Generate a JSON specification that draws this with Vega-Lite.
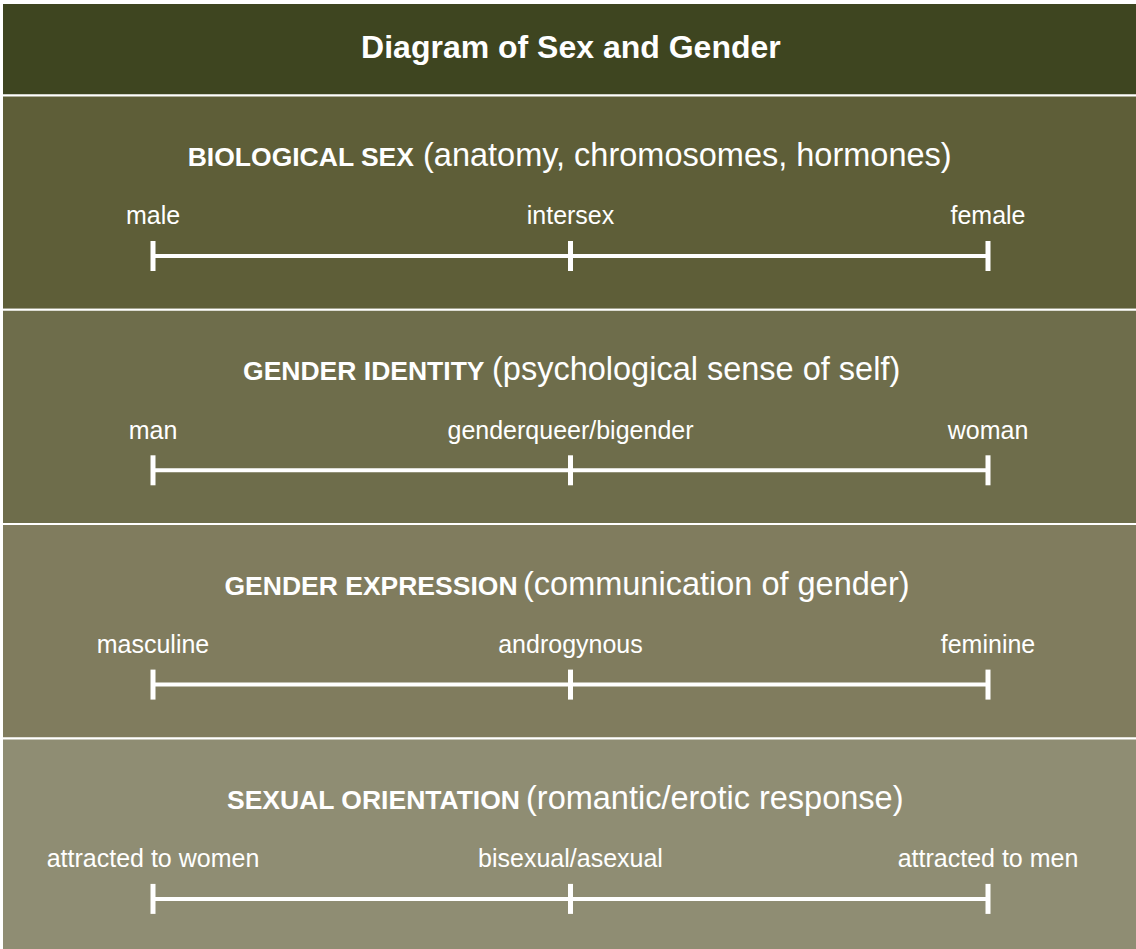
{
  "$schema": "https://vega.github.io/schema/vega-lite/v6.json",
  "width": 1136,
  "height": 949,
  "autosize": {"type": "fit", "contains": "padding"},
  "padding": 0,
  "background": "#ffffff",
  "config": {"view": {"stroke": null}},
  "datasets": {
    "title": [{"text": "Diagram of Sex and Gender"}],
    "dims": [
      {"dim": 1, "bold": "BIOLOGICAL SEX", "paren": "(anatomy, chromosomes, hormones)"},
      {"dim": 2, "bold": "GENDER IDENTITY", "paren": "(psychological sense of self)"},
      {"dim": 3, "bold": "GENDER EXPRESSION", "paren": "(communication of gender)"},
      {"dim": 4, "bold": "SEXUAL ORIENTATION", "paren": "(romantic/erotic response)"}
    ],
    "points": [
      {"dim": 1, "pos": -1, "label": "male"},
      {"dim": 1, "pos": 0, "label": "intersex"},
      {"dim": 1, "pos": 1, "label": "female"},
      {"dim": 2, "pos": -1, "label": "man"},
      {"dim": 2, "pos": 0, "label": "genderqueer/bigender"},
      {"dim": 2, "pos": 1, "label": "woman"},
      {"dim": 3, "pos": -1, "label": "masculine"},
      {"dim": 3, "pos": 0, "label": "androgynous"},
      {"dim": 3, "pos": 1, "label": "feminine"},
      {"dim": 4, "pos": -1, "label": "attracted to women"},
      {"dim": 4, "pos": 0, "label": "bisexual/asexual"},
      {"dim": 4, "pos": 1, "label": "attracted to men"}
    ]
  },
  "layer": [
    {
      "data": {"name": "title"},
      "mark": {"type": "rect", "color": "#3e4520", "stroke": "#ffffff", "strokeWidth": 2, "clip": true},
      "encoding": {
        "x": {"datum": -1.36168, "type": "quantitative", "scale": {"domain": [-1.36647, 1.35449], "nice": false, "zero": false}, "axis": null},
        "x2": {"datum": 1.38},
        "y": {"datum": 0.56837, "type": "quantitative", "scale": {"domain": [0.55437, 4.98273], "nice": false, "zero": false, "reverse": true}, "axis": null},
        "y2": {"datum": 1}
      }
    },
    {
      "data": {"name": "dims"},
      "mark": {"type": "rect", "stroke": "#ffffff", "strokeWidth": 2, "y2Offset": 214.3, "clip": true},
      "encoding": {
        "x": {"datum": -1.36168, "type": "quantitative", "scale": {"domain": [-1.36647, 1.35449], "nice": false, "zero": false}, "axis": null},
        "x2": {"datum": 1.38},
        "y": {"field": "dim", "type": "quantitative", "scale": {"domain": [0.55437, 4.98273], "nice": false, "zero": false, "reverse": true}, "axis": null},
        "y2": {"field": "dim"},
        "color": {"field": "dim", "type": "nominal", "scale": {"domain": [1, 2, 3, 4], "range": ["#5e5e38", "#6e6d4b", "#807c5e", "#8f8d73"]}, "legend": null}
      }
    },
    {
      "data": {"name": "title"},
      "mark": {"type": "text", "align": "center", "baseline": "alphabetic", "font": "Liberation Sans", "fontWeight": "bold", "fontSize": 32, "color": "#ffffff"},
      "encoding": {
        "x": {"datum": 0.001, "type": "quantitative", "scale": {"domain": [-1.36647, 1.35449], "nice": false, "zero": false}, "axis": null},
        "y": {"datum": 0.82642, "type": "quantitative", "scale": {"domain": [0.55437, 4.98273], "nice": false, "zero": false, "reverse": true}, "axis": null},
        "text": {"field": "text"}
      }
    },
    {
      "data": {"name": "dims"},
      "mark": {"type": "rule", "color": "#ffffff", "strokeWidth": 4, "yOffset": 160.5},
      "encoding": {
        "x": {"datum": -1, "type": "quantitative", "scale": {"domain": [-1.36647, 1.35449], "nice": false, "zero": false}, "axis": null},
        "x2": {"datum": 1},
        "y": {"field": "dim", "type": "quantitative", "scale": {"domain": [0.55437, 4.98273], "nice": false, "zero": false, "reverse": true}, "axis": null}
      }
    },
    {
      "data": {"name": "points"},
      "mark": {"type": "rule", "color": "#ffffff", "strokeWidth": 5, "yOffset": 145.5, "y2Offset": 175.5},
      "encoding": {
        "x": {"field": "pos", "type": "quantitative", "scale": {"domain": [-1.36647, 1.35449], "nice": false, "zero": false}, "axis": null},
        "y": {"field": "dim", "type": "quantitative", "scale": {"domain": [0.55437, 4.98273], "nice": false, "zero": false, "reverse": true}, "axis": null},
        "y2": {"field": "dim"}
      }
    },
    {
      "data": {"name": "points"},
      "mark": {"type": "text", "align": "center", "baseline": "alphabetic", "font": "Liberation Sans", "fontSize": 25, "color": "#ffffff", "yOffset": 129},
      "encoding": {
        "x": {"field": "pos", "type": "quantitative", "scale": {"domain": [-1.36647, 1.35449], "nice": false, "zero": false}, "axis": null},
        "y": {"field": "dim", "type": "quantitative", "scale": {"domain": [0.55437, 4.98273], "nice": false, "zero": false, "reverse": true}, "axis": null},
        "text": {"field": "label"}
      }
    },
    {
      "data": {"name": "dims"},
      "transform": [{"filter": "datum.dim == 1"}],
      "layer": [
        {
          "mark": {"type": "text", "align": "right", "baseline": "alphabetic", "font": "Liberation Sans", "fontWeight": "bold", "fontSize": 26.5, "color": "#ffffff", "yOffset": 70.5},
          "encoding": {
            "x": {"datum": -0.3749, "type": "quantitative", "scale": {"domain": [-1.36647, 1.35449], "nice": false, "zero": false}, "axis": null},
            "y": {"field": "dim", "type": "quantitative", "scale": {"domain": [0.55437, 4.98273], "nice": false, "zero": false, "reverse": true}, "axis": null},
            "text": {"field": "bold"}
          }
        },
        {
          "mark": {"type": "text", "align": "left", "baseline": "alphabetic", "font": "Liberation Sans", "fontSize": 32.5, "color": "#ffffff", "yOffset": 70.5},
          "encoding": {
            "x": {"datum": -0.3533, "type": "quantitative", "scale": {"domain": [-1.36647, 1.35449], "nice": false, "zero": false}, "axis": null},
            "y": {"field": "dim", "type": "quantitative", "scale": {"domain": [0.55437, 4.98273], "nice": false, "zero": false, "reverse": true}, "axis": null},
            "text": {"field": "paren"}
          }
        }
      ]
    },
    {
      "data": {"name": "dims"},
      "transform": [{"filter": "datum.dim == 2"}],
      "layer": [
        {
          "mark": {"type": "text", "align": "right", "baseline": "alphabetic", "font": "Liberation Sans", "fontWeight": "bold", "fontSize": 26.5, "color": "#ffffff", "yOffset": 70.5},
          "encoding": {
            "x": {"datum": -0.2060, "type": "quantitative", "scale": {"domain": [-1.36647, 1.35449], "nice": false, "zero": false}, "axis": null},
            "y": {"field": "dim", "type": "quantitative", "scale": {"domain": [0.55437, 4.98273], "nice": false, "zero": false, "reverse": true}, "axis": null},
            "text": {"field": "bold"}
          }
        },
        {
          "mark": {"type": "text", "align": "left", "baseline": "alphabetic", "font": "Liberation Sans", "fontSize": 32.5, "color": "#ffffff", "yOffset": 70.5},
          "encoding": {
            "x": {"datum": -0.1880, "type": "quantitative", "scale": {"domain": [-1.36647, 1.35449], "nice": false, "zero": false}, "axis": null},
            "y": {"field": "dim", "type": "quantitative", "scale": {"domain": [0.55437, 4.98273], "nice": false, "zero": false, "reverse": true}, "axis": null},
            "text": {"field": "paren"}
          }
        }
      ]
    },
    {
      "data": {"name": "dims"},
      "transform": [{"filter": "datum.dim == 3"}],
      "layer": [
        {
          "mark": {"type": "text", "align": "right", "baseline": "alphabetic", "font": "Liberation Sans", "fontWeight": "bold", "fontSize": 26.5, "color": "#ffffff", "yOffset": 70.5},
          "encoding": {
            "x": {"datum": -0.1269, "type": "quantitative", "scale": {"domain": [-1.36647, 1.35449], "nice": false, "zero": false}, "axis": null},
            "y": {"field": "dim", "type": "quantitative", "scale": {"domain": [0.55437, 4.98273], "nice": false, "zero": false, "reverse": true}, "axis": null},
            "text": {"field": "bold"}
          }
        },
        {
          "mark": {"type": "text", "align": "left", "baseline": "alphabetic", "font": "Liberation Sans", "fontSize": 32.5, "color": "#ffffff", "yOffset": 70.5},
          "encoding": {
            "x": {"datum": -0.1138, "type": "quantitative", "scale": {"domain": [-1.36647, 1.35449], "nice": false, "zero": false}, "axis": null},
            "y": {"field": "dim", "type": "quantitative", "scale": {"domain": [0.55437, 4.98273], "nice": false, "zero": false, "reverse": true}, "axis": null},
            "text": {"field": "paren"}
          }
        }
      ]
    },
    {
      "data": {"name": "dims"},
      "transform": [{"filter": "datum.dim == 4"}],
      "layer": [
        {
          "mark": {"type": "text", "align": "right", "baseline": "alphabetic", "font": "Liberation Sans", "fontWeight": "bold", "fontSize": 26.5, "color": "#ffffff", "yOffset": 70.5},
          "encoding": {
            "x": {"datum": -0.1210, "type": "quantitative", "scale": {"domain": [-1.36647, 1.35449], "nice": false, "zero": false}, "axis": null},
            "y": {"field": "dim", "type": "quantitative", "scale": {"domain": [0.55437, 4.98273], "nice": false, "zero": false, "reverse": true}, "axis": null},
            "text": {"field": "bold"}
          }
        },
        {
          "mark": {"type": "text", "align": "left", "baseline": "alphabetic", "font": "Liberation Sans", "fontSize": 32.5, "color": "#ffffff", "yOffset": 70.5},
          "encoding": {
            "x": {"datum": -0.1066, "type": "quantitative", "scale": {"domain": [-1.36647, 1.35449], "nice": false, "zero": false}, "axis": null},
            "y": {"field": "dim", "type": "quantitative", "scale": {"domain": [0.55437, 4.98273], "nice": false, "zero": false, "reverse": true}, "axis": null},
            "text": {"field": "paren"}
          }
        }
      ]
    }
  ]
}
